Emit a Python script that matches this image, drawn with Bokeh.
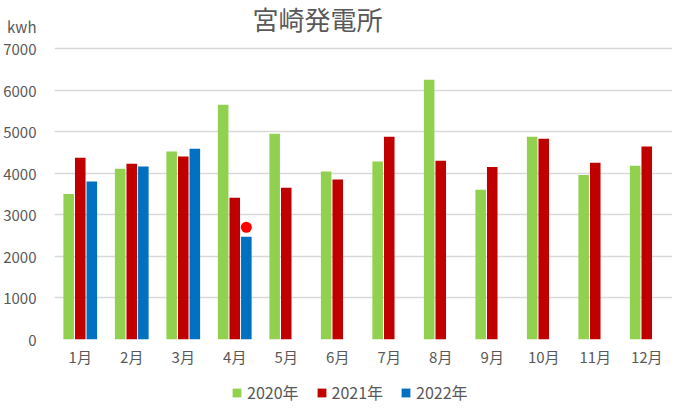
from bokeh.plotting import figure
from bokeh.models import ColumnDataSource, FactorRange, Range1d, FixedTicker, Label, Legend, LegendItem
from bokeh.layouts import column
from bokeh.transform import dodge
from bokeh.embed import file_html
from bokeh.resources import INLINE

# datos (kwh por mes)
months = ["1月", "2月", "3月", "4月", "5月", "6月", "7月", "8月", "9月", "10月", "11月", "12月"]
y2020 = [3500, 4110, 4520, 5650, 4950, 4040, 4280, 6250, 3600, 4880, 3960, 4180]
y2021 = [4370, 4230, 4400, 3410, 3650, 3850, 4880, 4300, 4150, 4830, 4250, 4640]
months_2022 = ["1月", "2月", "3月", "4月"]
y2022 = [3800, 4160, 4590, 2470]
dot_month = ["4月"]
dot_value = [2700]
y_ticks = [0, 1000, 2000, 3000, 4000, 5000, 6000, 7000]
series = ["2020年", "2021年", "2022年"]
colors = ["#92D050", "#C00000", "#0070C0"]

FONT = "Noto Sans CJK JP"
GRAY = "#595959"

src = ColumnDataSource(data=dict(month=months, y2020=y2020, y2021=y2021))
src22 = ColumnDataSource(data=dict(month=months_2022, y2022=y2022))
src_dot = ColumnDataSource(data=dict(month=dot_month, v=dot_value))


def barras(fig):
    w = 0.205
    step = 0.225
    rs = [fig.vbar(x=dodge("month", -step, range=fig.x_range), top="y2020", width=w, source=src,
                   fill_color=colors[0], line_color=None),
          fig.vbar(x=dodge("month", 0, range=fig.x_range), top="y2021", width=w, source=src,
                   fill_color=colors[1], line_color=None),
          fig.vbar(x=dodge("month", step, range=fig.x_range), top="y2022", width=w, source=src22,
                   fill_color=colors[2], line_color=None)]
    return rs


# el marco llega hasta arriba para que el titulo quede dentro
p = figure(x_range=FactorRange(*months), y_range=Range1d(0, 8155),
           width=672, height=384, output_backend="svg", toolbar_location=None,
           min_border_left=48, min_border_right=0, min_border_top=0, min_border_bottom=45)
p.outline_line_color = None

barras(p)
p.scatter(x=dodge("month", 0.225, range=p.x_range), y="v", source=src_dot, size=11,
          fill_color="#FF0000", line_color=None)

# eje y: la unidad va como una etiqueta extra arriba
p.yaxis.ticker = FixedTicker(ticks=y_ticks + [7530])
p.yaxis.major_label_overrides = {7530: "kwh"}
p.yaxis.axis_line_color = None
p.yaxis.major_tick_line_color = None
p.yaxis.minor_tick_line_color = None
p.yaxis.major_label_text_font = FONT
p.yaxis.major_label_text_font_size = "15px"
p.yaxis.major_label_text_color = GRAY
p.yaxis.major_label_standoff = 12

p.xaxis.axis_line_color = None
p.xaxis.major_tick_line_color = None
p.xaxis.major_label_text_font = FONT
p.xaxis.major_label_text_font_size = "15px"
p.xaxis.major_label_text_color = GRAY
p.xaxis.major_label_standoff = 0

p.xgrid.grid_line_color = None
p.ygrid.ticker = FixedTicker(ticks=y_ticks)
p.ygrid.grid_line_color = "#D9D9D9"
p.ygrid.grid_line_width = 1.5

p.add_layout(Label(x=263, y=321, x_units="screen", y_units="screen", text="宮崎発電所",
                   text_font=FONT, text_font_size="26px", text_color=GRAY,
                   text_align="center", text_baseline="middle"))

# leyenda en una figura aparte debajo (en el panel "below" se rompe el layout)
# las barras de esta figura van ocultas, solo sirven para la leyenda
leg = figure(x_range=FactorRange(*months), y_range=Range1d(-2, -1),
             width=672, height=20, output_backend="svg", toolbar_location=None,
             x_axis_location=None, y_axis_location=None,
             min_border_left=0, min_border_right=0, min_border_top=0, min_border_bottom=0)
leg.outline_line_color = None
leg.xgrid.grid_line_color = None
leg.ygrid.grid_line_color = None
rs = barras(leg)
for r in rs:
    r.visible = False
legend = Legend(items=[LegendItem(label=n, renderers=[r]) for n, r in zip(series, rs)],
                orientation="horizontal", location=(177, 0),
                glyph_width=11, glyph_height=11, label_standoff=5, spacing=17,
                padding=0, margin=0, border_line_color=None, background_fill_alpha=0,
                label_text_font=FONT, label_text_font_size="16px", label_text_color=GRAY,
                label_height=20)
leg.add_layout(legend)

layout = column(p, leg, spacing=0)
open("out.html", "w").write(file_html(layout, INLINE))
